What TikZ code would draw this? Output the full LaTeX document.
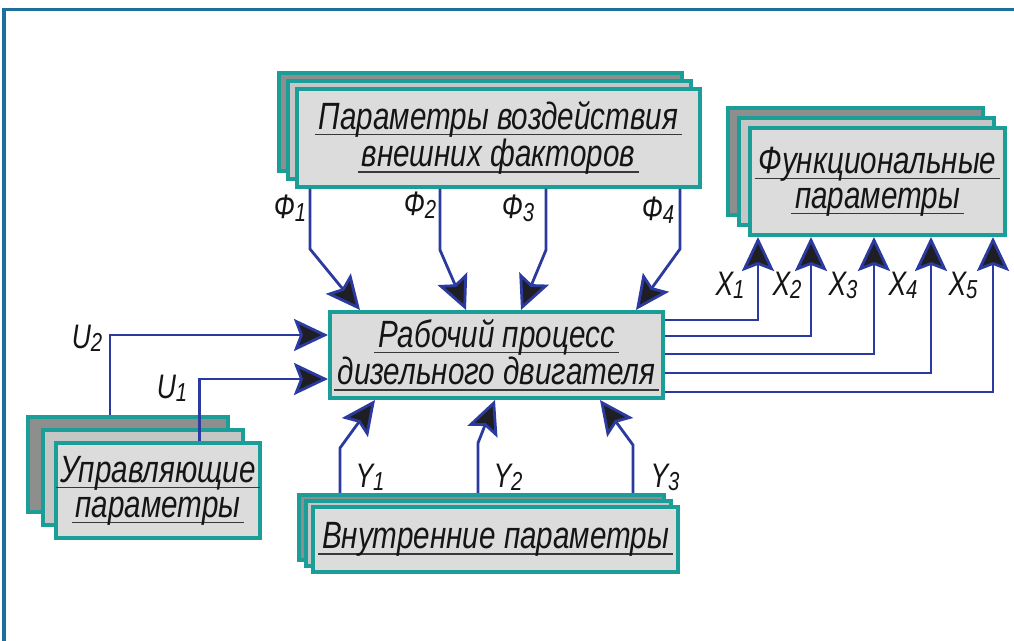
\documentclass[tikz,border=0pt]{standalone}
\usepackage{fontspec}
\setmainfont{Liberation Sans}
\newfontfamily\gost{Liberation Sans}[FakeStretch=0.78]
\usetikzlibrary{arrows.meta, positioning}

\definecolor{boxedge}{HTML}{1A9E97}
\definecolor{backfill}{HTML}{8E8E8E}
\definecolor{midfill}{HTML}{C6C6C6}
\definecolor{frontfill}{HTML}{DCDCDC}
\definecolor{wirecol}{HTML}{2B3A9E}
\definecolor{tipfill}{HTML}{1E1E24}
\definecolor{framecol}{HTML}{1F6F9C}
\definecolor{ink}{HTML}{151515}

% underlined line of a card caption
\newcommand\uline[1]{\setbox0=\hbox{\kern2pt#1\kern2pt}\rlap{\color{ink!85}\rule[-3pt]{\wd0}{0.8pt}}\box0}
% letter with a small index
\newcommand\idx[2]{#1\raisebox{-1.5pt}{\fontsize{13}{13}\selectfont#2}}

\tikzset{%
>={Stealth[length=17pt,width=16pt,inset=3pt,fill=tipfill]},
  % Specifications for style of cards and wires:
            card/.style = {draw=boxedge, line width=2pt, fill=frontfill,
                            inner sep=0pt, align=center, text=ink,
                            font=\gost\itshape\fontsize{19}{17.5}\selectfont},
            wire/.style = {draw=wirecol, line width=1.4pt, ->},
            tag/.style = {inner sep=0pt, text=ink,
                            font=\gost\itshape\fontsize{17}{17}\selectfont},
            frame/.style = {draw=framecol, line width=1.5pt}
}

\begin{document}
\begin{tikzpicture}[x=0.5pt, y=-0.5pt]
                        \useasboundingbox (0,0) rectangle (1014,641);
                        \draw[frame] (1014,9.5) -- (4,9.5) -- (4,641);
                        % back layers of the stacked cards
                        \foreach \d/\c in {2/backfill,1/midfill}{
                            \node[card, fill=\c, minimum width=201.5pt, minimum height=49pt] (vf\d) at (498.5-9*\d,138-8*\d) {};
                            \node[card, fill=\c, minimum width=127.5pt, minimum height=53.5pt] (fp\d) at (877.5-11*\d,181.5-10*\d) {};
                            \node[card, fill=\c, minimum width=100pt, minimum height=47.5pt] (up\d) at (158-15*\d,490.5-13*\d) {};
                            \node[card, fill=\c, minimum width=182.5pt, minimum height=32.5pt] (ip\d) at (495.5-7*\d,539.5-6*\d) {};
                        }
                        % front cards
                        \node[card, minimum width=201.5pt, minimum height=49pt] (vf) at (498.5,138)
                            {\uline{Параметры воздействия}\\\uline{внешних факторов}};
                        \node[card, minimum width=127.5pt, minimum height=53.5pt] (fp) at (877.5,181.5)
                            {\uline{Функциональные}\\\uline{параметры}};
                        \node[card, minimum width=100pt, minimum height=47.5pt] (up) at (158,490.5)
                            {\uline{Управляющие}\\\uline{параметры}};
                        \node[card, minimum width=182.5pt, minimum height=32.5pt] (ip) at (495.5,539.5)
                            {\uline{Внутренние параметры}};
                        \node[card, minimum width=166.5pt, minimum height=43pt] (wp) at (496.5,355)
                            {\uline{Рабочий процесс}\\\uline{дизельного двигателя}};

                        % external factors
                        \draw[wire] ([shift={(15,0)}]vf.south west) -- ++(0,60) -- ([shift={(32,0)}]wp.north west);
                        \draw[wire] ([shift={(145,0)}]vf.south west) -- ++(0,61) -- ([shift={(138,0)}]wp.north west);
                        \draw[wire] ([shift={(251,0)}]vf.south west) -- ++(0,61) -- ([shift={(193,0)}]wp.north west);
                        \draw[wire] ([shift={(385,0)}]vf.south west) -- ++(0,60) -- ([shift={(308,0)}]wp.north west);
                        % control inputs
                        \draw[wire] ([shift={(84,0)}]up2.north west) |- ([shift={(0,-20)}]wp.west);
                        \draw[wire] ([shift={(145,0)}]up.north west) |- ([shift={(0,24)}]wp.west);
                        % internal parameters
                        \draw[wire] ([shift={(43,0)}]ip2.north west) -- ++(0,-45) -- ([shift={(47,0)}]wp.south west);
                        \draw[wire] ([shift={(181,0)}]ip2.north west) -- ++(0,-50) -- ([shift={(167,0)}]wp.south west);
                        \draw[wire] ([shift={(336,0)}]ip2.north west) -- ++(0,-48) -- ([shift={(272,0)}]wp.south west);
                        % functional outputs
                        \foreach \y/\x in {-35/10,-19/63,-1/126,18/183,37/245}{
                            \draw[wire] ([shift={(0,\y)}]wp.east) -| ([shift={(\x,0)}]fp.south west);
                        }

                        % labels
                        \node[tag] (f1) at (290,208) {\idx{Ф}{1}};
                        \node[tag] (f2) at (420,205) {\idx{Ф}{2}};
                        \node[tag] (f3) at (518,208) {\idx{Ф}{3}};
                        \node[tag] (f4) at (658,210) {\idx{Ф}{4}};
                        \foreach \i/\x in {1/730,2/787,3/843,4/903,5/963}{
                            \node[tag] (x\i) at (\x,285) {\idx{X}{\i}};
                        }
                        \node[tag] (u2) at (87,338) {\idx{U}{2}};
                        \node[tag] (u1) at (172,388) {\idx{U}{1}};
                        \node[tag] (y1) at (370,477) {\idx{Y}{1}};
                        \node[tag] (y2) at (508,477) {\idx{Y}{2}};
                        \node[tag] (y3) at (665,477) {\idx{Y}{3}};
                    \end{tikzpicture}
\end{document}
